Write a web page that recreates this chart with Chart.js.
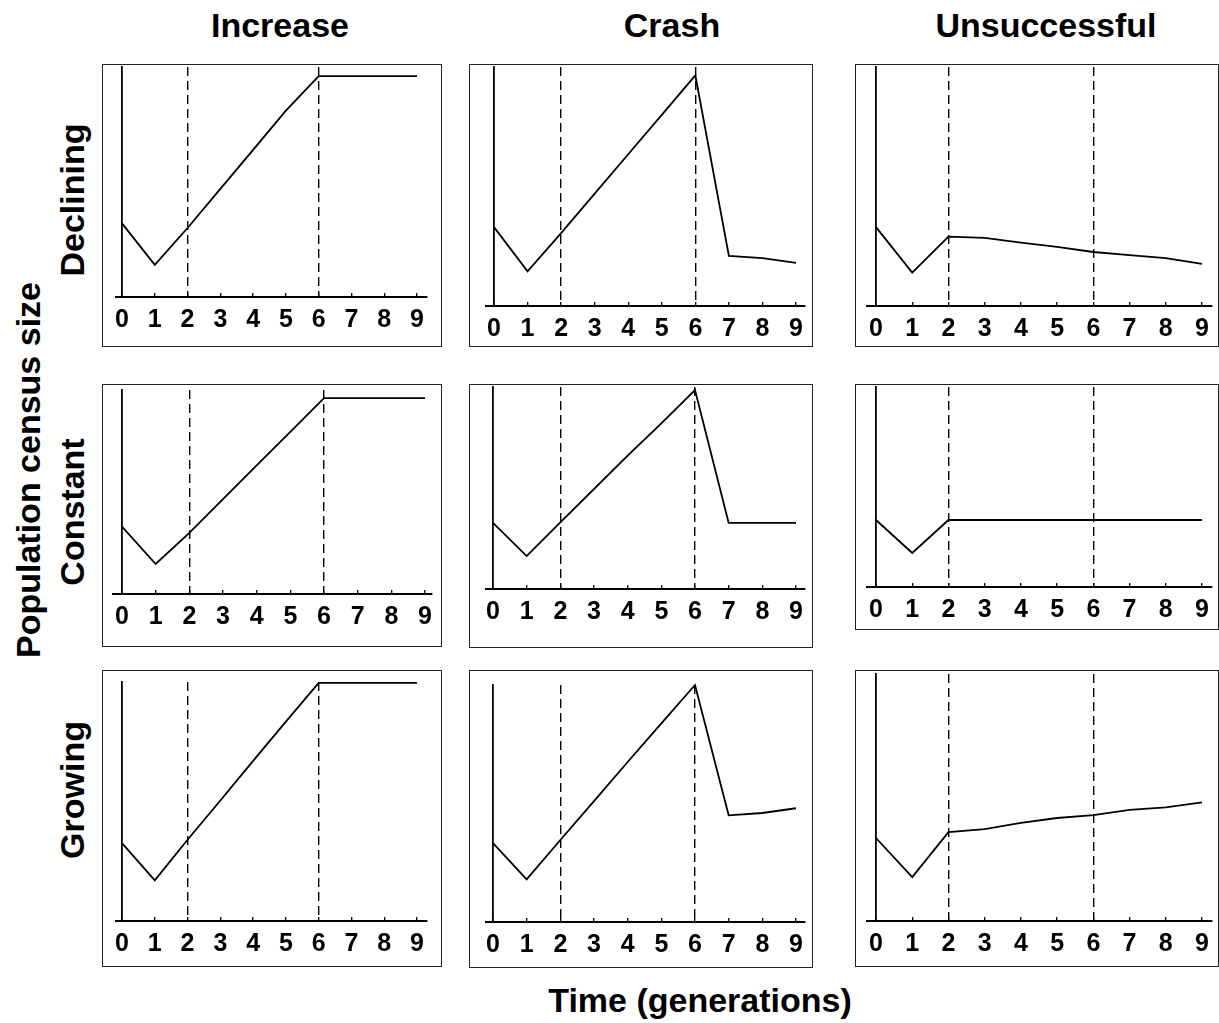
<!DOCTYPE html>
<html>
<head>
<meta charset="utf-8">
<script src="https://cdn.jsdelivr.net/npm/chart.js@4.4.1/dist/chart.umd.min.js"></script>
<style>
body { margin:0; background:#fff; width:1219px; height:1023px; position:relative; overflow:hidden;
       font-family:"Liberation Sans", Arial, sans-serif; }
.box { position:absolute; border:1.5px solid #222; box-sizing:border-box; }
.lbl { position:absolute; font-weight:bold; font-size:34px; white-space:nowrap; color:#000;
       transform:translate(-50%,-50%); }
.rot { transform:translate(-50%,-50%) rotate(-90deg); }
canvas { position:absolute; }
</style>
</head>
<body>
<script>
// time axis + the two event generations (dashed lines)
const generations = [0, 1, 2, 3, 4, 5, 6, 7, 8, 9];
const eventGens = [2, 6];
const outcomes = ['Increase', 'Crash', 'Unsuccessful'];
const trends = ['Declining', 'Constant', 'Growing'];

// population size, 100 = top of the y axis
const decliningIncrease     = [32, 14, 30, 47, 64, 81, 96, 96, 96, 96];
const decliningCrash        = [33, 14.5, 30.5, 47, 63.5, 80, 96.5, 21, 20, 18];
const decliningUnsuccessful = [33, 14, 29, 28.5, 26.5, 24.7, 22.6, 21.3, 20, 17.6];
const constantIncrease      = [33, 14.7, 30, 46.5, 63, 79.5, 96, 96, 96, 96];
const constantCrash         = [32.7, 16.3, 33, 49.5, 66, 82, 98.5, 32.7, 32.7, 32.7];
const constantUnsuccessful  = [33.5, 17, 33.5, 33.5, 33.5, 33.5, 33.5, 33.5, 33.5, 33.5];
const growingIncrease       = [32.6, 17, 34, 50.4, 67, 83.4, 99.6, 99.6, 99.6, 99.6];
const growingCrash          = [33.3, 18, 34.6, 51, 67.5, 83.8, 100, 45, 46, 48];
const growingUnsuccessful   = [33.6, 17.8, 36, 37.2, 39.7, 41.7, 42.9, 45, 46, 48];

const series = [
  [decliningIncrease, decliningCrash, decliningUnsuccessful],
  [constantIncrease, constantCrash, constantUnsuccessful],
  [growingIncrease, growingCrash, growingUnsuccessful]
];

// layout: panel frames [l, t, r, b] and plot [axisStart, axisEnd, tick0, tick9, axisTop, axisBase]
const panelBox = [
  [[102,64,442,347], [469,64,813,347], [855,64,1219,347]],
  [[102,384,442,647], [469,384,813,648], [855,384,1219,630]],
  [[102,670,442,967], [469,670,813,968], [855,670,1219,967]]
];
const plotArea = [
  [[116,427,122,417,67,297], [486,805,494,796,67,306], [867,1212,876,1202,67,306]],
  [[113,432,122,425,390,594], [486,805,493,796,387,589], [867,1212,876,1202,387,587]],
  [[116,427,122,417,682,921], [486,805,493,796,685,922], [867,1212,876,1202,674,921]]
];

const FONT = '"Liberation Sans", Arial, sans-serif';

function addLabel(text, x, y, rotate) {
  const d = document.createElement('div');
  d.className = 'lbl' + (rotate ? ' rot' : '');
  d.textContent = text;
  d.style.left = x + 'px';
  d.style.top = y + 'px';
  document.body.appendChild(d);
}

function makePanel(r, c) {
  const [bl, bt, br, bb] = panelBox[r][c];
  const box = document.createElement('div');
  box.className = 'box';
  box.style.left = bl + 'px'; box.style.top = bt + 'px';
  box.style.width = (br - bl) + 'px'; box.style.height = (bb - bt) + 'px';
  document.body.appendChild(box);

  const [ax0, ax1, t0, t9, top, base] = plotArea[r][c];
  const ppu = (t9 - t0) / 9;
  const xmin = -(t0 - ax0) / ppu;
  const xmax = 9 + (ax1 - t9) / ppu;
  const padS = 20, padT = 10, below = 40;

  const cv = document.createElement('canvas');
  const w = ax1 - ax0 + 2 * padS, h = base - top + padT + below;
  cv.width = w; cv.height = h;
  cv.style.width = w + 'px'; cv.style.height = h + 'px';
  cv.style.left = (ax0 - padS) + 'px'; cv.style.top = (top - padT) + 'px';
  document.body.appendChild(cv);

  const vals = series[r][c];
  new Chart(cv, {
    type: 'line',
    data: {
      datasets: [{
        data: generations.map((g, i) => ({x: g, y: vals[i]})),
        borderColor: '#000',
        borderWidth: 1.8,
        pointRadius: 0,
        tension: 0,
        clip: false
      }]
    },
    options: {
      responsive: false,
      animation: false,
      layout: { padding: { left: padS, right: padS, top: padT, bottom: 0 } },
      plugins: { legend: { display: false }, tooltip: { enabled: false } },
      scales: {
        x: {
          type: 'linear', min: xmin, max: xmax, position: 'bottom',
          afterBuildTicks: s => { s.ticks = generations.map(v => ({value: v})); },
          afterFit: s => { s.height = below; },
          ticks: { color: '#000', font: { family: FONT, size: 25, weight: 'bold' }, padding: 12, maxRotation: 0, autoSkip: false },
          grid: {
            color: ctx => (ctx.tick && eventGens.includes(ctx.tick.value)) ? '#000' : 'rgba(0,0,0,0)',
            lineWidth: 1.4,
            drawTicks: true, tickLength: -4, tickColor: '#000', tickWidth: 1.3
          },
          border: { display: true, color: '#000', width: 2, dash: [9, 5] }
        },
        y: {
          type: 'linear', min: 0, max: 100, position: { x: 0 },
          ticks: { display: false },
          grid: { display: false },
          border: { display: true, color: '#000', width: 1.8 }
        }
      }
    }
  });
}

for (let r = 0; r < 3; r++) for (let c = 0; c < 3; c++) makePanel(r, c);

addLabel(outcomes[0], 280, 25);
addLabel(outcomes[1], 672, 25);
addLabel(outcomes[2], 1046, 25);
addLabel(trends[0], 72, 200, true);
addLabel(trends[1], 72, 512, true);
addLabel(trends[2], 72, 790, true);
addLabel('Population census size', 28, 470, true);
addLabel('Time (generations)', 700, 1000);
</script>
</body>
</html>
